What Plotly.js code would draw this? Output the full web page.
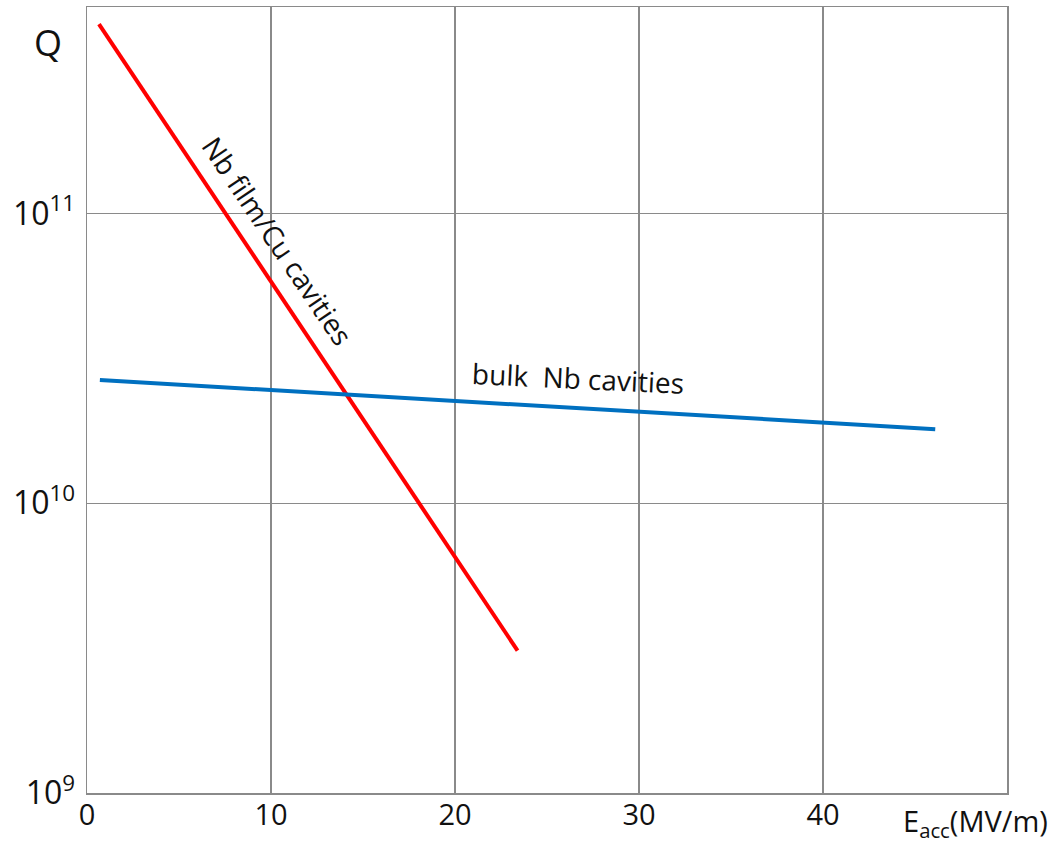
<!DOCTYPE html>
<html>
<head>
<meta charset="utf-8">
<script src="https://cdn.plot.ly/plotly-3.0.1.min.js"></script>
<style>
  html, body { margin: 0; padding: 0; background: #fff; }
  #chart { width: 1056px; height: 845px; }
</style>
</head>
<body>
<div id="chart"></div>
<script>
// Quality factor Q versus accelerating field for two cavity technologies
const filmField = [0.65, 23.4];          // Nb film on Cu, E_acc (MV/m)
const filmQ = [4.5e11, 3.1e9];
const bulkField = [0.7, 46.1];           // bulk Nb, E_acc (MV/m)
const bulkQ = [2.66e10, 1.80e10];

const xTicks = [0, 10, 20, 30, 40];
const yTicks = [1e9, 1e10, 1e11];
const yTickText = ['10<sup>9</sup>', '10<sup>10</sup>', '10<sup>11</sup>'];

const FONT = 'Open Sans, Lato, sans-serif';
const INK = '#111';
const GRID = '#8a8a8a';

const traces = [
  {
    x: filmField, y: filmQ, mode: 'lines', type: 'scatter',
    line: { color: '#ff0000', width: 4 }, hoverinfo: 'skip'
  },
  {
    x: bulkField, y: bulkQ, mode: 'lines', type: 'scatter',
    line: { color: '#0070c0', width: 4 }, hoverinfo: 'skip'
  }
];

const layout = {
  width: 1056, height: 845,
  margin: { l: 87, r: 49, t: 7, b: 52 },
  paper_bgcolor: '#fff', plot_bgcolor: '#fff',
  showlegend: false,
  font: { family: FONT, color: INK },
  xaxis: {
    range: [0, 50], tickvals: xTicks,
    showgrid: true, gridcolor: GRID, gridwidth: 1.3,
    zeroline: false, showline: true, mirror: true,
    linecolor: GRID, linewidth: 1.5,
    ticks: '', ticklabelstandoff: -4,
    tickfont: { size: 29, family: FONT, color: INK }
  },
  yaxis: {
    type: 'log', range: [9, 11.712],
    tickvals: yTicks, ticktext: yTickText,
    showgrid: true, gridcolor: GRID, gridwidth: 1.3,
    zeroline: false, showline: true, mirror: true,
    linecolor: GRID, linewidth: 1.5,
    ticks: '', ticklabelstandoff: 4,
    tickfont: { size: 32, family: FONT, color: INK }
  },
  annotations: [
    {
      text: 'Q', xref: 'paper', yref: 'paper', x: -0.042, y: 0.955,
      xanchor: 'center', yanchor: 'middle',
      showarrow: false, font: { size: 36, family: FONT, color: INK }
    },
    {
      text: 'E<sub>acc</sub>(MV/m)', xref: 'paper', yref: 'paper',
      x: 1.0467, y: -0.007, xanchor: 'right', yanchor: 'top', showarrow: false,
      font: { size: 29, family: FONT, color: INK }
    },
    {
      text: 'Nb film/Cu cavities', x: 10.33, y: 10.907,
      xanchor: 'center', yanchor: 'middle',
      textangle: 56, showarrow: false,
      font: { size: 28, family: FONT, color: INK }
    },
    {
      text: 'bulk  Nb cavities', x: 26.7, y: 10.431,
      xanchor: 'center', yanchor: 'middle',
      textangle: 2.7, showarrow: false,
      font: { size: 28, family: FONT, color: INK }
    }
  ]
};

Plotly.newPlot('chart', traces, layout, { displayModeBar: false, staticPlot: true });
</script>
</body>
</html>
